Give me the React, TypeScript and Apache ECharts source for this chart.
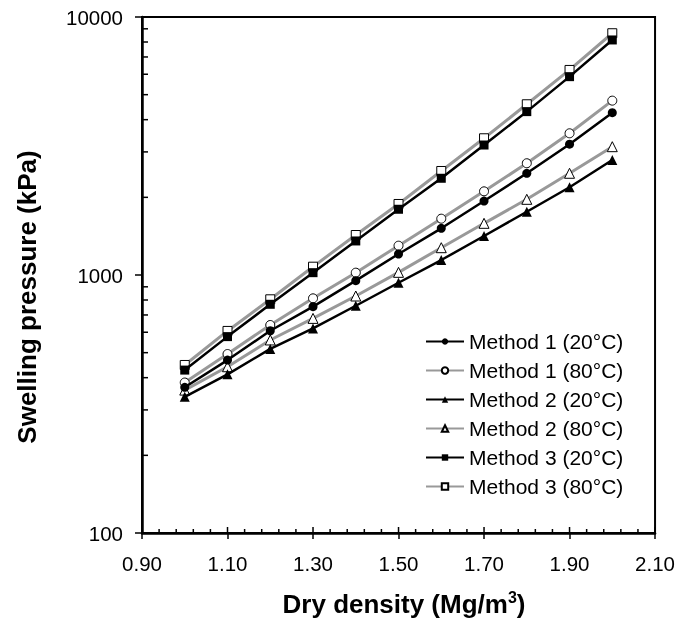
import React, { useEffect, useRef } from "react";
import * as echarts from "echarts";

// Dry density (Mg/m3)
const density = [1.0, 1.1, 1.2, 1.3, 1.4, 1.5, 1.6, 1.7, 1.8, 1.9, 2.0];
// Swelling pressure (kPa)
const m1_20 = [367, 468, 608, 754, 951, 1206, 1517, 1935, 2479, 3213, 4259];
const m1_80 = [383, 494, 640, 812, 1021, 1299, 1653, 2110, 2711, 3542, 4740];
const m2_20 = [337, 412, 517, 621, 760, 933, 1143, 1416, 1758, 2188, 2790];
const m2_80 = [358, 441, 560, 679, 829, 1024, 1276, 1586, 1965, 2479, 3143];
const m3_20 = [428, 577, 770, 1021, 1355, 1798, 2371, 3190, 4298, 5872, 8147];
const m3_80 = [448, 607, 805, 1077, 1429, 1885, 2530, 3388, 4589, 6234, 8650];

const seriesNames = [
  "Method 1 (20°C)",
  "Method 1 (80°C)",
  "Method 2 (20°C)",
  "Method 2 (80°C)",
  "Method 3 (20°C)",
  "Method 3 (80°C)",
];

const xTickLabels = [0.9, 1.1, 1.3, 1.5, 1.7, 1.9, 2.1];
const xMinorTicks = [
  0.94, 0.98, 1.02, 1.06, 1.14, 1.18, 1.22, 1.26, 1.34, 1.38, 1.42, 1.46,
  1.54, 1.58, 1.62, 1.66, 1.74, 1.78, 1.82, 1.86, 1.94, 1.98, 2.02, 2.06,
];
const yMinorTicks = [
  200, 300, 400, 500, 600, 700, 800, 900,
  2000, 3000, 4000, 5000, 6000, 7000, 8000, 9000,
];

const FONT = "'Liberation Sans', Arial, sans-serif";
const GREY = "#999999";

export default function App() {
  const ref = useRef<HTMLDivElement>(null);

  useEffect(() => {
    if (!ref.current) return;
    const chart = echarts.init(ref.current, null, { renderer: "svg" });

    const pairs = (vals: number[]) => density.map((d, i) => [d, vals[i]]);

    const mk = (
      name: string,
      vals: number[],
      black: boolean,
      symbol: string,
      size: number
    ) => ({
      type: "line",
      name,
      data: pairs(vals),
      symbol,
      symbolSize: size,
      showSymbol: true,
      lineStyle: { color: black ? "#000" : GREY, width: black ? 2.5 : 3 },
      itemStyle: black
        ? { color: "#000", borderColor: "#000", borderWidth: 0 }
        : { color: "#fff", borderColor: "#000", borderWidth: 1 },
      z: black ? 3 : 2,
    });

    const tickData: number[][] = [
      ...yMinorTicks.map((v) => [0.9, v, 0]),
      ...xMinorTicks.map((v) => [v, 100, 1]),
      ...xTickLabels.map((v) => [v, 100, 2]),
    ];

    const option: any = {
      animation: false,
      textStyle: { fontFamily: FONT },
      grid: {
        left: 142,
        right: 21,
        top: 17,
        bottom: 90,
        show: true,
        borderColor: "#000",
        borderWidth: 2,
        containLabel: false,
      },
      xAxis: {
        type: "value",
        min: 0.9,
        max: 2.1,
        axisLine: { show: true, lineStyle: { color: "#000", width: 2.5 } },
        axisTick: {
          show: true,
          customValues: xTickLabels,
          length: 6,
          inside: false,
          lineStyle: { color: "#000", width: 1.5 },
        },
        axisLabel: {
          customValues: xTickLabels,
          formatter: (v: number) => v.toFixed(2),
          fontSize: 20.5,
          color: "#000",
          margin: 20,
          fontFamily: FONT,
        },
        splitLine: { show: false },
      },
      yAxis: {
        type: "log",
        logBase: 10,
        min: 100,
        max: 10000,
        axisLine: { show: true, lineStyle: { color: "#000", width: 2.5 } },
        axisTick: {
          show: true,
          length: 7,
          inside: false,
          lineStyle: { color: "#000", width: 1.5 },
        },
        axisLabel: {
          formatter: (v: number) => String(Math.round(v)),
          fontSize: 20.5,
          color: "#000",
          margin: 19,
          fontFamily: FONT,
        },
        splitLine: { show: false },
      },
      legend: {
        data: seriesNames,
        orient: "vertical",
        left: 420,
        top: 326,
        itemWidth: 38,
        itemHeight: 8,
        itemGap: 8,
        textStyle: { fontSize: 21, color: "#000", fontFamily: FONT },
      },
      graphic: [
        {
          type: "text",
          x: 27,
          y: 297,
          rotation: Math.PI / 2,
          style: {
            text: "Swelling pressure (kPa)",
            fontSize: 26,
            fontWeight: "bold",
            fontFamily: FONT,
            fill: "#000",
            align: "center",
            verticalAlign: "middle",
          },
        },
        {
          type: "text",
          x: 404,
          y: 604,
          style: {
            text: "{a|Dry density (Mg/m}{s|3}{a|)}",
            rich: {
              a: { fontSize: 26, fontWeight: "bold", fontFamily: FONT, fill: "#000" },
              s: {
                fontSize: 16,
                fontWeight: "bold",
                fontFamily: FONT,
                fill: "#000",
                padding: [0, 0, 14, 0],
              },
            },
            align: "center",
            verticalAlign: "middle",
          },
        },
      ],
      series: [
        mk(seriesNames[1], m1_80, false, "circle", 9),
        mk(seriesNames[0], m1_20, true, "circle", 9),
        mk(seriesNames[3], m2_80, false, "triangle", 10),
        mk(seriesNames[2], m2_20, true, "triangle", 10),
        mk(seriesNames[5], m3_80, false, "rect", 9),
        mk(seriesNames[4], m3_20, true, "rect", 9),
        {
          type: "custom",
          name: "ticks",
          silent: true,
          clip: false,
          z: 10,
          encode: { x: 0, y: 1 },
          data: tickData,
          renderItem: (params: any, api: any) => {
            const p = api.coord([api.value(0), api.value(1)]);
            const kind = api.value(2);
            if (kind === 0) {
              return {
                type: "line",
                shape: { x1: p[0], y1: p[1], x2: p[0] + 6, y2: p[1] },
                style: { stroke: "#000", lineWidth: 1.5 },
              };
            }
            if (kind === 1) {
              return {
                type: "line",
                shape: { x1: p[0], y1: p[1], x2: p[0], y2: p[1] - 4 },
                style: { stroke: "#000", lineWidth: 1.5 },
              };
            }
            return {
              type: "line",
              shape: { x1: p[0], y1: p[1], x2: p[0], y2: p[1] - 6 },
              style: { stroke: "#000", lineWidth: 1.5 },
            };
          },
        },
      ],
    };

    chart.setOption(option);
    return () => chart.dispose();
  }, []);

  return (
    <div
      ref={ref}
      style={{ position: "fixed", left: 0, top: 0, width: 678, height: 623 }}
    />
  );
}
